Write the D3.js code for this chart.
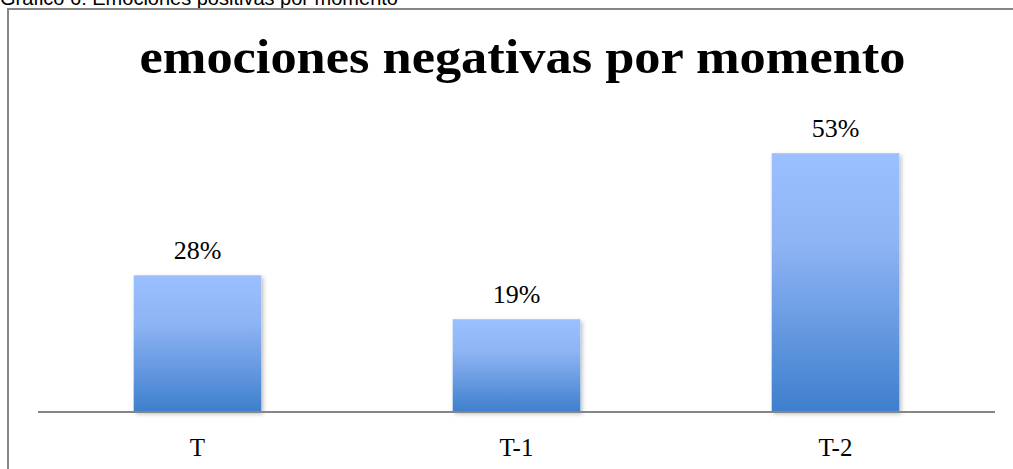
<!DOCTYPE html>
<html>
<head>
<meta charset="utf-8">
<script src="https://cdn.jsdelivr.net/npm/d3@7"></script>
<style>
  html, body { margin: 0; padding: 0; background: #fff; }
  svg { display: block; }
</style>
</head>
<body>
<svg id="chart" width="1013" height="469"></svg>
<script>
// Chart data
const categories = ["T", "T-1", "T-2"];
const values = [28, 19, 53];
const valueLabels = ["28%", "19%", "53%"];
const chartTitle = "emociones negativas por momento";
const caption = "Gráfico 6: Emociones positivas por momento";

const svg = d3.select("#chart");
const W = 1013, H = 469;

// Plot area
const plot = { left: 38, right: 995, top: 119, bottom: 412 };

const x = d3.scaleBand()
  .domain(categories)
  .range([plot.left, plot.right])
  .paddingInner(0.6)
  .paddingOuter(0.3);

const y = d3.scaleLinear()
  .domain([0, 60])
  .range([plot.bottom, plot.top]);

// Gradient fill for bars
const defs = svg.append("defs");
const grad = defs.append("linearGradient")
  .attr("id", "barGrad")
  .attr("x1", 0).attr("y1", 0).attr("x2", 0).attr("y2", 1);
grad.append("stop").attr("offset", "0%").attr("stop-color", "#9bc0ff");
grad.append("stop").attr("offset", "35%").attr("stop-color", "#8eb4f4");
grad.append("stop").attr("offset", "100%").attr("stop-color", "#3e7fcd");

const shadow = defs.append("filter").attr("id", "barShadow")
  .attr("x", "-10%").attr("y", "-10%").attr("width", "130%").attr("height", "130%");
shadow.append("feDropShadow")
  .attr("dx", 2).attr("dy", 2).attr("stdDeviation", 2)
  .attr("flood-color", "#000").attr("flood-opacity", 0.25);

// Caption above the frame (partly clipped at the top edge)
svg.append("text")
  .attr("x", 0).attr("y", 5)
  .attr("font-family", "Liberation Sans, Arial, sans-serif")
  .attr("font-size", 20)
  .attr("fill", "#000")
  .text(caption);

// Chart frame
svg.append("rect")
  .attr("x", 8).attr("y", 9)
  .attr("width", W + 20).attr("height", H + 20)
  .attr("fill", "#fff")
  .attr("stroke", "#868686")
  .attr("stroke-width", 2);

// Title
svg.append("text")
  .attr("x", (plot.left + plot.right) / 2 + 6)
  .attr("y", 73)
  .attr("text-anchor", "middle")
  .attr("font-family", "Liberation Serif, 'DejaVu Serif', serif")
  .attr("font-weight", "bold")
  .attr("font-size", 48)
  .attr("textLength", 766)
  .attr("lengthAdjust", "spacingAndGlyphs")
  .attr("fill", "#000")
  .text(chartTitle);

// Bars
const data = categories.map((c, i) => ({ cat: c, value: values[i], label: valueLabels[i] }));

svg.append("g")
  .selectAll("rect")
  .data(data)
  .join("rect")
  .attr("x", d => x(d.cat))
  .attr("y", d => y(d.value))
  .attr("width", x.bandwidth())
  .attr("height", d => y(0) - y(d.value))
  .attr("fill", "url(#barGrad)")
  .attr("filter", "url(#barShadow)");

// Value labels
svg.append("g")
  .selectAll("text")
  .data(data)
  .join("text")
  .attr("x", d => x(d.cat) + x.bandwidth() / 2)
  .attr("y", d => y(d.value) - 16)
  .attr("text-anchor", "middle")
  .attr("font-family", "Liberation Serif, 'DejaVu Serif', serif")
  .attr("font-size", 26)
  .attr("fill", "#000")
  .text(d => d.label);

// Category axis
const xAxis = svg.append("g")
  .attr("transform", `translate(0,${plot.bottom})`)
  .call(d3.axisBottom(x).tickSize(0).tickPadding(0));
xAxis.select(".domain")
  .attr("d", `M${plot.left},0H${plot.right}`)
  .attr("stroke", "#868686")
  .attr("stroke-width", 2);
xAxis.selectAll(".tick text")
  .attr("dy", 0)
  .attr("y", 44)
  .attr("font-family", "Liberation Serif, 'DejaVu Serif', serif")
  .attr("font-size", 25)
  .attr("fill", "#000");
</script>
</body>
</html>
